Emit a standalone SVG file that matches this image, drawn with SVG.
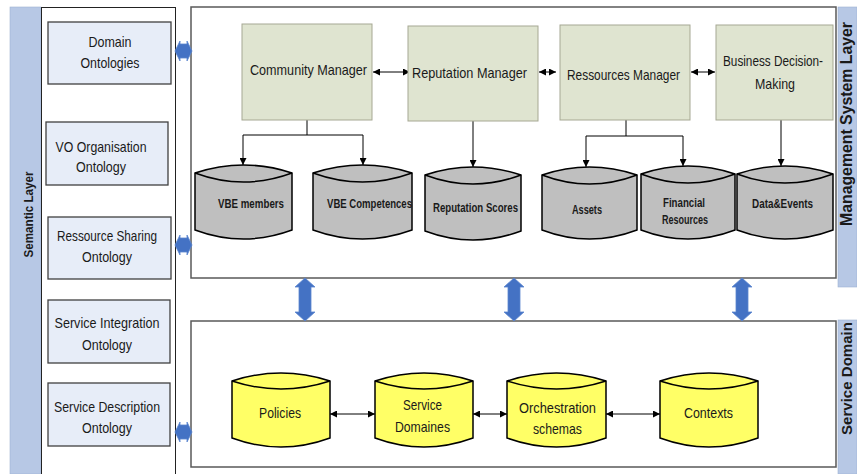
<svg xmlns="http://www.w3.org/2000/svg" width="857" height="474" viewBox="0 0 857 474">
<style>
  .band{fill:#b7c8e5;stroke:#9fb2d2;stroke-width:0.6}
  .panel{fill:#ffffff;stroke:#595959;stroke-width:1.5}
  .onto{fill:#e7edf8;stroke:#404040;stroke-width:1.3}
  .mgr{fill:#dfe4d0;stroke:#a6a893;stroke-width:1}
  .gcyl{fill:#bfbfbf;stroke:#000;stroke-width:1.5}
  .ycyl{fill:#ffff66;stroke:#000;stroke-width:1.5}
  .cylin{fill:none;stroke:#000;stroke-width:1.5}
  .blue{fill:#4472c4;stroke:#5b85cf;stroke-width:0.8}
  .t{font-family:"Liberation Sans",Arial,sans-serif;font-size:15px;fill:#1a1a1a;text-anchor:middle}
  .b{font-family:"Liberation Sans",Arial,sans-serif;font-size:12.5px;font-weight:bold;fill:#1a1a1a;text-anchor:middle}
  .lay{font-family:"Liberation Sans",Arial,sans-serif;font-weight:bold;fill:#1a1a1a;text-anchor:middle}
  .con{fill:none;stroke:#000;stroke-width:1}
</style>
<defs>
  <marker id="ah" viewBox="0 0 8 8" refX="8" refY="4" markerWidth="7" markerHeight="7" markerUnits="userSpaceOnUse" orient="auto-start-reverse">
    <path d="M0,0 L8,4 L0,8 z" fill="#000"/>
  </marker>
</defs>

<!-- layer bands -->
<g id="semantic-layer">
  <rect class="band" x="10" y="7" width="31" height="467"/>
  <text class="lay" font-size="13" transform="translate(33,214.5) rotate(-90)" textLength="86" lengthAdjust="spacingAndGlyphs">Semantic Layer</text>
</g>
<g id="management-layer">
  <rect class="band" x="838" y="7" width="19" height="280"/>
  <text class="lay" font-size="16" transform="translate(852,124) rotate(-90)" textLength="204" lengthAdjust="spacingAndGlyphs">Management System Layer</text>
</g>
<g id="service-domain-layer">
  <rect class="band" x="838" y="320" width="19" height="154"/>
  <text class="lay" font-size="15.5" transform="translate(852,378.5) rotate(-90)" textLength="113" lengthAdjust="spacingAndGlyphs">Service Domain</text>
</g>

<!-- panels -->
<rect x="41.5" y="7.5" width="134" height="470" fill="#fff" stroke="#222" stroke-width="1"/>
<rect class="panel" x="191" y="7" width="645" height="271"/>
<rect class="panel" x="191" y="321" width="645" height="146"/>

<!-- connectors -->
<g id="connectors">
  <polygon class="blue" points="175,51 180,41 180,44 187,44 187,41 192,51 187,61 187,58 180,58 180,61"/>
  <polygon class="blue" points="175,245 180,235 180,238 187,238 187,235 192,245 187,255 187,252 180,252 180,255"/>
  <polygon class="blue" points="175,432 180,422 180,425 187,425 187,422 192,432 187,442 187,439 180,439 180,442"/>
  <polygon class="blue" points="305,278 315,287 311,287 311,312 315,312 305,321 295,312 299,312 299,287 295,287"/>
  <polygon class="blue" points="514,278 524,287 520,287 520,312 524,312 514,321 504,312 508,312 508,287 504,287"/>
  <polygon class="blue" points="742,278 752,287 748,287 748,312 752,312 742,321 732,312 736,312 736,287 732,287"/>

  <line class="con" x1="373" y1="72" x2="410" y2="72" marker-start="url(#ah)" marker-end="url(#ah)"/>
  <line class="con" x1="539" y1="72" x2="556" y2="72" marker-start="url(#ah)" marker-end="url(#ah)"/>
  <line class="con" x1="691" y1="72" x2="715" y2="72" marker-start="url(#ah)" marker-end="url(#ah)"/>

  <path class="con" d="M307,120 V135 H243 V165" marker-end="url(#ah)"/>
  <path class="con" d="M307,135 H363 V165" marker-end="url(#ah)"/>
  <path class="con" d="M473,121 V167" marker-end="url(#ah)"/>
  <path class="con" d="M626,120 V136 H586 V167" marker-end="url(#ah)"/>
  <path class="con" d="M626,136 H683 V166" marker-end="url(#ah)"/>
  <path class="con" d="M781,120 V166" marker-end="url(#ah)"/>

  <line class="con" x1="330" y1="414" x2="375" y2="414" marker-start="url(#ah)" marker-end="url(#ah)"/>
  <line class="con" x1="473" y1="414" x2="507" y2="414" marker-start="url(#ah)" marker-end="url(#ah)"/>
  <line class="con" x1="606" y1="414" x2="660" y2="414" marker-start="url(#ah)" marker-end="url(#ah)"/>
</g>

<!-- ontologies -->
<g id="domain-ontologies">
  <rect class="onto" x="48" y="22" width="123" height="62"/>
  <text class="t" x="110" y="47" textLength="43" lengthAdjust="spacingAndGlyphs">Domain</text>
  <text class="t" x="110" y="68" textLength="59" lengthAdjust="spacingAndGlyphs">Ontologies</text>
</g>
<g id="vo-organisation-ontology">
  <rect class="onto" x="46" y="122" width="122" height="63"/>
  <text class="t" x="101" y="152" textLength="91" lengthAdjust="spacingAndGlyphs">VO Organisation</text>
  <text class="t" x="101" y="172" textLength="50" lengthAdjust="spacingAndGlyphs">Ontology</text>
</g>
<g id="ressource-sharing-ontology">
  <rect class="onto" x="48" y="217" width="123" height="62"/>
  <text class="t" x="107" y="241" textLength="100" lengthAdjust="spacingAndGlyphs">Ressource Sharing</text>
  <text class="t" x="107" y="262" textLength="50" lengthAdjust="spacingAndGlyphs">Ontology</text>
</g>
<g id="service-integration-ontology">
  <rect class="onto" x="48" y="300" width="122" height="63"/>
  <text class="t" x="107" y="328" textLength="105" lengthAdjust="spacingAndGlyphs">Service Integration</text>
  <text class="t" x="107" y="350" textLength="50" lengthAdjust="spacingAndGlyphs">Ontology</text>
</g>
<g id="service-description-ontology">
  <rect class="onto" x="48" y="383" width="122" height="63"/>
  <text class="t" x="107" y="412" textLength="106" lengthAdjust="spacingAndGlyphs">Service Description</text>
  <text class="t" x="107" y="433" textLength="50" lengthAdjust="spacingAndGlyphs">Ontology</text>
</g>

<!-- managers -->
<g id="community-manager">
  <rect class="mgr" x="242" y="24" width="130" height="96"/>
  <text class="t" x="308.5" y="75" textLength="117" lengthAdjust="spacingAndGlyphs">Community Manager</text>
</g>
<g id="reputation-manager">
  <rect class="mgr" x="408" y="26" width="130" height="95"/>
  <text class="t" x="469.5" y="78" textLength="115" lengthAdjust="spacingAndGlyphs">Reputation Manager</text>
</g>
<g id="ressources-manager">
  <rect class="mgr" x="560" y="25" width="130" height="95"/>
  <text class="t" x="623.5" y="80" textLength="113" lengthAdjust="spacingAndGlyphs">Ressources Manager</text>
</g>
<g id="business-decision-making">
  <rect class="mgr" x="716" y="25" width="117" height="95"/>
  <text class="t" x="773" y="66" textLength="100" lengthAdjust="spacingAndGlyphs">Business Decision-</text>
  <text class="t" x="775" y="89" textLength="40" lengthAdjust="spacingAndGlyphs">Making</text>
</g>

<!-- gray data stores -->
<g id="vbe-members">
  <path class="gcyl" d="M195,173 Q243.5,157 292,173 L292,230 Q243.5,248 195,230 Z"/>
  <path class="cylin" d="M195,173 Q243.5,191 292,173"/>
  <text class="b" x="251" y="208" textLength="66" lengthAdjust="spacingAndGlyphs">VBE members</text>
</g>
<g id="vbe-competences">
  <path class="gcyl" d="M313,173 Q362.5,157 412,173 L412,230 Q362.5,248 313,230 Z"/>
  <path class="cylin" d="M313,173 Q362.5,191 412,173"/>
  <text class="b" x="369.5" y="208" textLength="85" lengthAdjust="spacingAndGlyphs">VBE Competences</text>
</g>
<g id="reputation-scores">
  <path class="gcyl" d="M425,175 Q473,159 521,175 L521,231 Q473,249 425,231 Z"/>
  <path class="cylin" d="M425,175 Q473,193 521,175"/>
  <text class="b" x="475.5" y="212" textLength="85" lengthAdjust="spacingAndGlyphs">Reputation Scores</text>
</g>
<g id="assets">
  <path class="gcyl" d="M542,175 Q589.5,159 637,175 L637,230 Q589.5,248 542,230 Z"/>
  <path class="cylin" d="M542,175 Q589.5,193 637,175"/>
  <text class="b" x="587" y="214" textLength="30" lengthAdjust="spacingAndGlyphs">Assets</text>
</g>
<g id="financial-resources">
  <path class="gcyl" d="M641,174 Q688,158 735,174 L735,230 Q688,248 641,230 Z"/>
  <path class="cylin" d="M641,174 Q688,192 735,174"/>
  <text class="b" x="684" y="207" textLength="42" lengthAdjust="spacingAndGlyphs">Financial</text>
  <text class="b" x="685" y="224" textLength="46" lengthAdjust="spacingAndGlyphs">Resources</text>
</g>
<g id="data-events">
  <path class="gcyl" d="M737,174 Q785,158 833,174 L833,230 Q785,248 737,230 Z"/>
  <path class="cylin" d="M737,174 Q785,192 833,174"/>
  <text class="b" x="782.5" y="208" textLength="61" lengthAdjust="spacingAndGlyphs">Data&amp;Events</text>
</g>

<!-- yellow service stores -->
<g id="policies">
  <path class="ycyl" d="M232,381 Q281,365 330,381 L330,438 Q281,456 232,438 Z"/>
  <path class="cylin" d="M232,381 Q281,397 330,381"/>
  <text class="t" x="280" y="418" textLength="42" lengthAdjust="spacingAndGlyphs">Policies</text>
</g>
<g id="service-domaines">
  <path class="ycyl" d="M375,381 Q424,365 473,381 L473,438 Q424,456 375,438 Z"/>
  <path class="cylin" d="M375,381 Q424,397 473,381"/>
  <text class="t" x="422.5" y="410" textLength="39" lengthAdjust="spacingAndGlyphs">Service</text>
  <text class="t" x="422.5" y="432" textLength="55" lengthAdjust="spacingAndGlyphs">Domaines</text>
</g>
<g id="orchestration-schemas">
  <path class="ycyl" d="M507,381 Q556.5,365 606,381 L606,438 Q556.5,456 507,438 Z"/>
  <path class="cylin" d="M507,381 Q556.5,397 606,381"/>
  <text class="t" x="557.5" y="413" textLength="77" lengthAdjust="spacingAndGlyphs">Orchestration</text>
  <text class="t" x="557.5" y="434" textLength="49" lengthAdjust="spacingAndGlyphs">schemas</text>
</g>
<g id="contexts">
  <path class="ycyl" d="M660,381 Q709,365 758,381 L758,438 Q709,456 660,438 Z"/>
  <path class="cylin" d="M660,381 Q709,397 758,381"/>
  <text class="t" x="708.5" y="418" textLength="49" lengthAdjust="spacingAndGlyphs">Contexts</text>
</g>
</svg>
